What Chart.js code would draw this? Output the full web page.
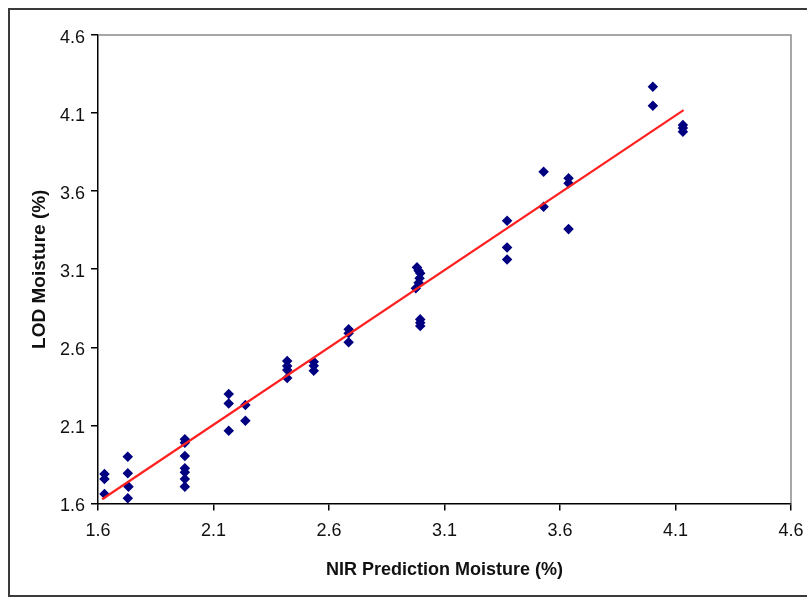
<!DOCTYPE html>
<html>
<head>
<meta charset="utf-8">
<script src="https://cdn.jsdelivr.net/npm/chart.js@4/dist/chart.umd.min.js"></script>
<style>
  html, body { margin: 0; padding: 0; background: #ffffff; }
  #wrap { position: relative; width: 807px; height: 600px; }
</style>
</head>
<body>
<div id="wrap"><canvas id="c" width="807" height="600"></canvas></div>
<script>
// ---- data ----
const nirX = [
  1.628, 1.628, 1.628,
  1.729, 1.729, 1.732, 1.729,
  1.976, 1.976, 1.976, 1.976, 1.976, 1.976, 1.976,
  2.166, 2.166, 2.166,
  2.238, 2.238,
  2.419, 2.419, 2.419, 2.419,
  2.534, 2.534, 2.534,
  2.685, 2.685, 2.685,
  2.981, 2.988, 2.995, 2.992, 2.988, 2.976,
  2.995, 2.995, 2.995,
  3.371, 3.371, 3.371,
  3.529, 3.529,
  3.637, 3.637, 3.637,
  4.002, 4.002,
  4.132, 4.132, 4.132
];
const lodY = [
  1.789, 1.757, 1.661,
  1.900, 1.793, 1.708, 1.633,
  2.011, 1.989, 1.904, 1.825, 1.800, 1.757, 1.708,
  2.301, 2.241, 2.066,
  2.231, 2.130,
  2.512, 2.480, 2.455, 2.403,
  2.508, 2.482, 2.450,
  2.715, 2.690, 2.632,
  3.112, 3.090, 3.074, 3.042, 3.014, 2.978,
  2.779, 2.757, 2.736,
  3.410, 3.240, 3.163,
  3.724, 3.500,
  3.682, 3.650, 3.357,
  4.268, 4.147,
  4.023, 4.004, 3.980
];
const trendX = [1.618, 4.135];
const trendY = [1.627, 4.119];
const xTickValues = [1.6, 2.1, 2.6, 3.1, 3.6, 4.1, 4.6];
const yTickValues = [1.6, 2.1, 2.6, 3.1, 3.6, 4.1, 4.6];
const xTitle = 'NIR Prediction Moisture (%)';
const yTitle = 'LOD Moisture (%)';

// ---- chart ----
const FONT = '"Liberation Sans", Arial, sans-serif';
const points = nirX.map((x, i) => ({ x: x, y: lodY[i] }));
const trend = trendX.map((x, i) => ({ x: x, y: trendY[i] }));

const framePlugin = {
  id: 'frame',
  beforeDraw(chart) {
    const ctx = chart.ctx;
    ctx.save();
    ctx.fillStyle = '#ffffff';
    ctx.fillRect(0, 0, chart.width, chart.height);
    ctx.strokeStyle = '#3a3a3a';
    ctx.lineWidth = 2;
    ctx.strokeRect(9, 9, chart.width + 10, chart.height - 13);
    ctx.restore();
  },
  afterDatasetsDraw(chart) {
    const a = chart.chartArea;
    const ctx = chart.ctx;
    ctx.save();
    ctx.strokeStyle = '#8a8a8a';
    ctx.lineWidth = 1.5;
    ctx.beginPath();
    ctx.moveTo(a.left, a.top);
    ctx.lineTo(a.right, a.top);
    ctx.lineTo(a.right, a.bottom);
    ctx.stroke();
    ctx.restore();
  }
};

function setTicks(values) {
  return function (scale) {
    scale.ticks = values.map(v => ({ value: v }));
  };
}

new Chart(document.getElementById('c'), {
  type: 'scatter',
  data: {
    datasets: [
      {
        type: 'line',
        label: 'Trend',
        data: trend,
        borderColor: '#ff2020',
        borderWidth: 2.2,
        pointRadius: 0,
        fill: false,
        order: 0
      },
      {
        label: 'LOD vs NIR',
        data: points,
        pointStyle: 'rectRot',
        pointRadius: 4.2,
        pointBackgroundColor: '#000080',
        pointBorderColor: '#000080',
        pointBorderWidth: 1.5,
        showLine: false,
        order: 1
      }
    ]
  },
  options: {
    responsive: false,
    animation: false,
    events: [],
    layout: { padding: { left: 0, top: 35, right: 16, bottom: 0 } },
    plugins: { legend: { display: false }, tooltip: { enabled: false } },
    scales: {
      x: {
        type: 'linear',
        min: 1.6,
        max: 4.6,
        afterBuildTicks: setTicks(xTickValues),
        afterFit(scale) { scale.height = 96.5; scale.paddingLeft = 0; scale.paddingRight = 0; },
        border: { display: true, color: '#000000', width: 1.5 },
        grid: { display: true, drawOnChartArea: false, drawTicks: true, tickLength: 7, color: '#000000', lineWidth: 1.5 },
        ticks: {
          padding: 10,
          maxRotation: 0,
          color: '#111111',
          font: { family: FONT, size: 18 },
          callback: v => Number(v).toFixed(1)
        },
        title: {
          display: true,
          text: xTitle,
          color: '#111111',
          font: { family: FONT, size: 18, weight: 'bold' },
          padding: { top: 0, bottom: 19 }
        }
      },
      y: {
        type: 'linear',
        min: 1.6,
        max: 4.6,
        afterBuildTicks: setTicks(yTickValues),
        afterFit(scale) { scale.width = 98; scale.paddingTop = 0; scale.paddingBottom = 0; },
        border: { display: true, color: '#000000', width: 1.5 },
        grid: { display: true, drawOnChartArea: false, drawTicks: true, tickLength: 7, color: '#000000', lineWidth: 1.5 },
        ticks: {
          padding: 6,
          labelOffset: 3,
          color: '#111111',
          font: { family: FONT, size: 18 },
          callback: v => Number(v).toFixed(1)
        },
        title: {
          display: true,
          text: yTitle,
          color: '#111111',
          font: { family: FONT, size: 19, weight: 'bold' },
          padding: { top: 28, bottom: 0 }
        }
      }
    }
  },
  plugins: [framePlugin]
});
</script>
</body>
</html>
